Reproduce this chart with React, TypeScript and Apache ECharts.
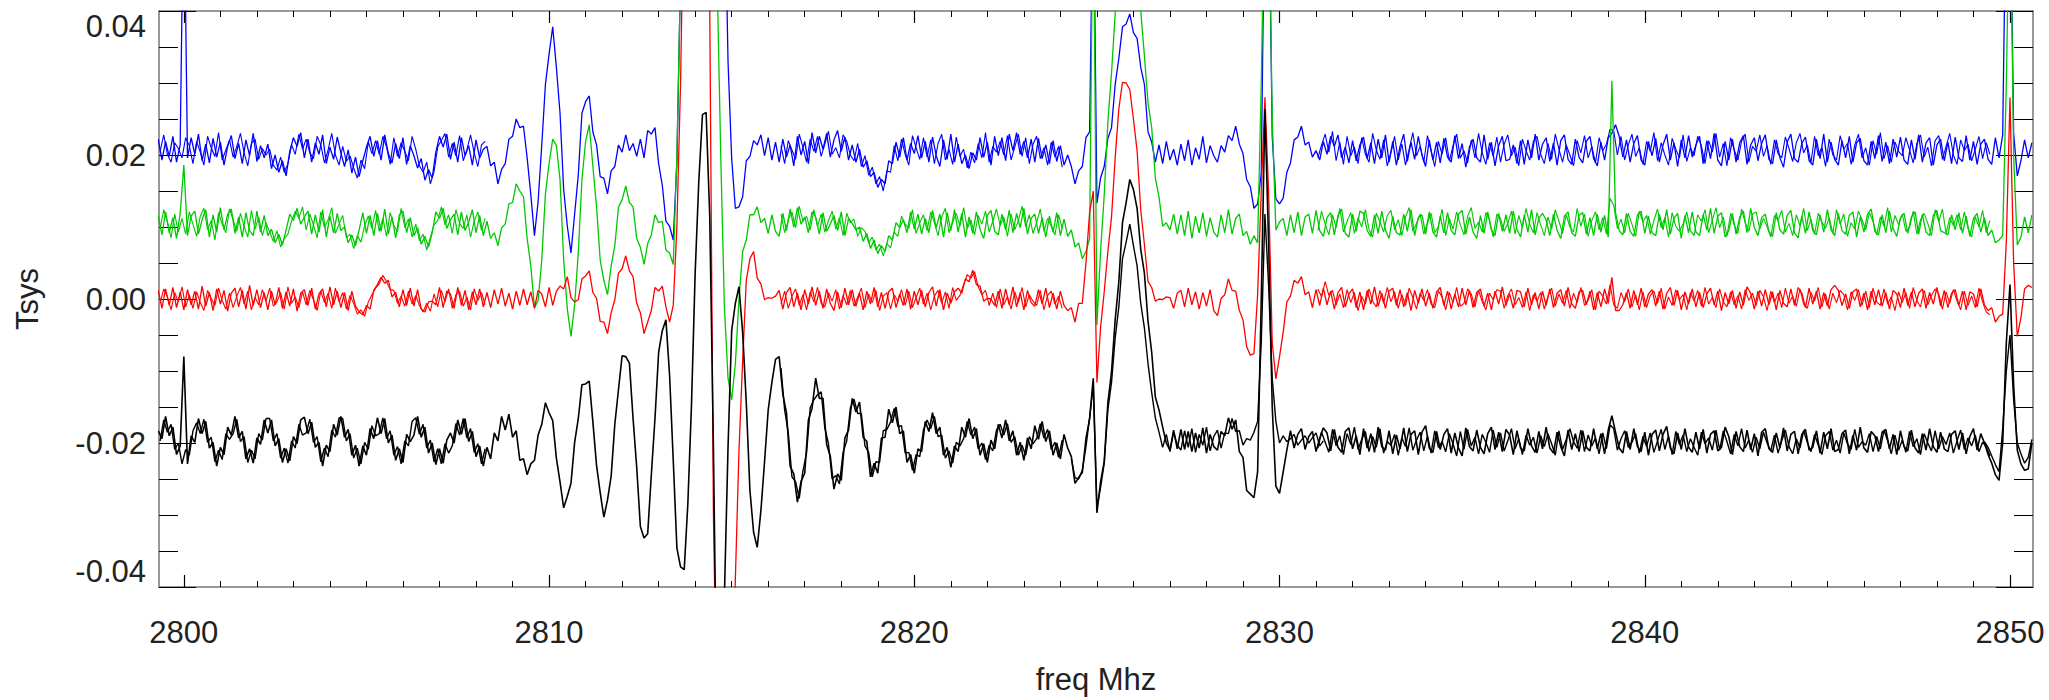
import React, { useEffect, useRef } from "react";
import * as echarts from "echarts";

// frequency grid of the sampled spectra (MHz)
const F0 = 2799.3;
const STEP = 0.1;
const X_MIN = 2799.32;
const X_MAX = 2850.63;
const Y_MIN = -0.04;
const Y_MAX = 0.04;
const X_TICK_LABELS = [2800, 2810, 2820, 2830, 2840, 2850];
const Y_TICK_LABELS = [-0.04, -0.02, 0.0, 0.02, 0.04];
const UNIT = 1e-4; // values below are in units of 1e-4 Tsys

const blueVals = [
  222,193,219,198,226,190,214,600,196,224,
  201,229,192,215,189,223,197,218,186,212,
  227,195,216,188,221,199,230,191,213,196,
  215,181,200,176,192,171,205,224,212,231,
  196,222,190,217,201,228,188,211,194,225,
  203,184,207,175,197,170,192,211,226,198,
  220,193,228,202,189,216,195,224,187,213,
  199,182,195,165,180,168,204,226,211,229,
  194,218,190,224,199,213,186,221,196,208,
  212,185,190,160,180,188,222,226,250,238,
  240,196,145,88,135,214,298,340,378,322,
  258,152,101,64,118,172,258,274,282,232,
  214,170,168,146,178,184,214,204,228,206,
  216,198,222,196,234,229,238,188,158,108,
  101,82,190,450,600,600,600,600,600,600,
  600,600,600,600,600,600,330,195,126,128,
  142,192,198,220,214,228,199,224,193,218,
  190,222,197,214,185,226,200,219,188,231,
  203,226,208,230,197,221,234,205,225,193,
  214,190,208,183,192,170,176,155,166,160,
  192,188,218,197,224,193,216,202,227,196,
  219,190,225,199,184,221,194,229,190,215,
  188,200,181,203,193,224,197,218,186,226,
  199,224,192,229,206,231,201,219,196,222,
  190,223,195,214,188,220,191,213,186,200,
  184,160,178,184,224,232,600,133,168,184,
  223,238,298,334,378,382,396,370,362,322,
  298,232,218,190,214,188,219,193,208,186,
  215,192,221,186,210,194,226,189,213,199,
  190,213,204,227,220,240,215,202,166,156,
  126,132,175,600,600,226,139,132,140,176,
  189,221,225,240,214,218,197,206,193,219,
  201,226,212,228,196,211,189,220,192,214,
  225,195,217,188,222,196,228,190,219,186,
  212,229,191,218,194,226,200,184,221,193,
  218,189,223,197,190,227,195,216,183,211,
  222,196,190,228,194,218,185,213,226,192,
  194,214,188,220,187,221,196,229,193,215,
  224,191,217,186,220,228,194,187,222,197,
  189,219,226,195,185,218,193,224,230,242,
  226,197,221,190,216,227,193,186,219,199,
  223,190,214,229,193,217,184,221,196,227,
  197,214,226,188,220,195,230,193,185,219,
  193,222,190,217,227,187,214,224,192,216,
  228,194,188,221,196,183,218,229,195,190,
  216,225,192,186,222,195,229,190,218,194,
  186,220,196,226,190,217,223,192,186,219,
  195,227,191,218,188,222,197,225,193,187,
  221,194,228,190,217,224,186,214,222,192,
  218,188,225,196,191,227,193,219,187,215,
  222,194,187,224,196,228,600,600,230,171,
  192,221,196,217,
];

const greenVals = [
  116,89,121,92,113,84,119,186,88,115,
  122,90,110,124,86,117,93,127,96,118,
  125,91,114,86,120,95,88,122,93,116,
  88,97,78,90,75,96,118,109,126,104,
  114,122,90,117,93,124,86,115,92,119,
  95,100,78,89,74,96,120,91,116,88,
  119,94,125,90,114,85,117,122,92,113,
  88,99,76,87,72,92,121,112,126,98,
  110,118,89,121,95,107,124,92,116,88,
  108,84,92,74,99,104,132,134,160,150,
  142,84,46,-12,-2,54,146,188,222,213,
  166,54,-14,-52,-8,64,166,219,242,184,
  128,54,26,6,46,74,127,138,157,134,
  128,84,72,48,77,89,117,106,108,68,
  64,48,200,450,600,600,600,600,600,600,
  600,600,600,450,200,-10,-110,-140,-90,0,
  66,82,117,117,128,106,112,91,117,94,
  87,119,95,125,100,127,104,114,92,121,
  114,90,120,94,104,116,95,121,88,112,
  105,96,100,80,91,70,82,63,74,66,
  88,82,106,99,110,92,121,97,118,90,
  112,92,123,99,118,86,120,95,124,93,
  119,86,114,91,121,97,84,116,123,94,
  89,118,96,123,92,119,99,126,90,112,
  118,91,113,86,115,93,120,88,111,87,
  96,72,78,56,66,84,600,-36,66,144,
  246,314,396,600,600,600,600,600,600,400,
  338,272,238,168,142,101,106,96,118,90,
  117,88,122,84,115,92,120,87,113,93,
  86,117,92,124,90,112,118,88,94,76,
  88,78,300,600,600,250,96,107,112,88,
  117,92,121,88,114,118,91,123,95,87,
  113,120,89,116,125,91,86,118,94,122,
  119,95,87,117,91,122,96,84,115,92,
  89,118,94,124,88,113,117,90,121,93,
  86,115,92,120,95,89,118,123,90,114,
  93,84,116,91,121,96,88,119,94,117,
  91,122,97,86,117,93,124,89,112,119,
  110,88,118,95,84,115,121,92,87,116,
  120,90,113,88,118,93,116,86,303,120,
  95,89,119,94,87,117,122,91,115,92,
  88,118,96,124,90,112,119,84,116,92,
  121,93,88,117,96,126,91,115,120,86,
  95,119,90,114,122,92,126,99,88,113,
  118,94,87,120,96,90,116,123,92,85,
  115,91,121,95,89,117,93,124,96,88,
  119,95,90,116,121,86,114,93,118,125,
  94,89,117,92,122,98,87,113,119,91,
  114,121,90,118,93,88,116,123,95,92,
  89,117,96,120,91,115,87,112,119,93,
  113,88,96,78,82,88,300,600,200,75,
  86,114,92,117,
];

const redVals = [
  12,-13,14,-9,16,-12,10,-15,13,-8,
  11,-14,18,-10,9,-16,14,-7,12,-17,
  8,15,-11,12,-14,19,-9,13,-12,9,
  -15,11,-8,16,-13,10,-10,14,-17,8,
  13,-9,15,-14,7,14,-11,17,-8,11,
  -12,9,-16,11,-10,-18,-22,-9,-14,12,
  20,30,22,26,3,9,-11,13,-9,15,
  -10,13,-14,-18,-4,-3,-8,16,-12,11,
  7,-13,16,-9,12,-15,10,-8,14,-11,
  9,-12,13,-7,15,-10,8,-14,11,-9,
  14,-8,10,-13,12,7,-11,16,-9,11,
  18,14,31,2,-4,-1,28,32,39,9,
  1,-31,-32,-48,-19,-1,36,42,60,39,
  31,-6,-19,-48,-32,-16,16,11,18,-11,
  -32,-9,100,300,600,600,600,600,600,600,
  600,400,-300,-600,-600,-600,-600,-600,-390,-210,
  -86,26,56,66,29,21,-1,2,1,4,
  12,-14,9,16,-11,8,-15,13,-7,17,
  -9,11,-13,14,-6,-16,10,-12,15,-8,
  13,-10,8,-15,11,-7,16,-11,9,-13,
  10,15,-12,7,-9,14,-14,11,-8,12,
  -11,9,17,-10,13,-15,8,-6,10,15,
  8,28,24,40,20,18,-3,1,0,-9,
  11,-13,14,-8,17,-11,9,-15,12,-5,
  -10,13,-7,15,-12,8,-14,11,-9,-16,
  -12,-32,-6,-6,50,120,150,-116,-40,10,
  66,114,196,264,301,300,291,250,206,124,
  76,24,16,-3,0,-1,3,2,-13,8,
  12,-11,15,-8,10,-14,9,-10,13,-16,
  -23,1,6,28,12,11,-16,-29,-66,-78,
  -76,6,150,280,150,-60,-111,-80,-46,-4,
  4,26,22,31,6,10,-12,13,-9,15,
  -8,11,-14,9,16,-11,7,14,-12,10,
  -15,12,-7,17,-10,8,-13,11,15,-9,
  13,-11,9,-16,12,-6,14,-10,8,-13,
  10,16,-9,11,-14,7,-11,15,-8,12,
  -12,9,14,-10,8,-15,11,-7,17,-9,
  7,-13,12,10,-11,15,-8,9,-14,11,
  -9,14,-12,8,13,-10,16,-7,-13,10,
  12,-8,11,-15,9,-11,14,-6,30,-16,
  -16,-8,9,-13,12,-8,15,-11,7,13,
  -10,11,-14,8,16,-9,12,-15,10,-7,
  14,-11,9,-12,7,15,-8,11,-16,9,
  -7,12,-13,10,-9,17,8,-14,11,-10,
  13,-8,10,-15,12,-6,-11,14,-9,16,
  8,-12,15,-7,11,-14,9,-10,13,19,
  12,-9,7,-13,10,14,-11,8,-15,11,
  -8,13,-10,9,-14,12,7,-12,15,-9,
  10,-11,8,14,-13,9,-7,16,-10,12,
  -12,8,13,-9,11,-15,10,7,-11,14,
  -8,-16,-12,-32,-24,-21,80,280,50,-52,
  -26,14,19,16,
];

const blackVals = [
  -183,-194,-163,-190,-178,-216,-204,-80,-229,-190,
  -199,-166,-187,-170,-207,-199,-232,-206,-216,-178,
  -189,-163,-193,-184,-222,-208,-228,-193,-202,-168,
  -186,-168,-204,-194,-227,-208,-225,-191,-201,-168,
  -164,-187,-171,-206,-199,-232,-203,-212,-174,-189,
  -163,-192,-181,-217,-203,-232,-204,-217,-180,-194,
  -165,-187,-166,-200,-189,-224,-208,-227,-188,-198,
  -189,-163,-192,-178,-214,-200,-230,-208,-228,-196,
  -186,-200,-168,-188,-166,-198,-184,-219,-204,-232,
  -206,-222,-186,-197,-163,-182,-160,-192,-183,-224,
  -222,-244,-229,-224,-189,-174,-144,-158,-169,-221,
  -254,-290,-274,-256,-199,-166,-119,-118,-114,-171,
  -231,-269,-303,-279,-246,-174,-126,-79,-80,-89,
  -166,-234,-316,-332,-326,-244,-166,-74,-44,-29,
  -106,-224,-346,-372,-376,-284,-146,36,164,256,
  259,114,-206,-600,-600,-414,-206,-44,-6,17,
  -46,-144,-266,-324,-345,-294,-226,-154,-116,-84,
  -80,-132,-158,-232,-243,-282,-253,-242,-168,-152,
  -110,-138,-138,-202,-218,-264,-243,-252,-193,-182,
  -138,-157,-143,-192,-198,-247,-228,-242,-193,-192,
  -153,-172,-150,-187,-183,-227,-216,-242,-208,-212,
  -170,-184,-158,-187,-178,-217,-206,-234,-204,-212,
  -178,-192,-166,-194,-180,-217,-201,-227,-196,-208,
  -174,-193,-168,-197,-183,-217,-199,-224,-193,-208,
  -176,-195,-170,-198,-183,-217,-200,-222,-188,-207,
  -219,-256,-248,-241,-194,-166,-110,-297,-254,-226,
  -144,-101,-29,24,106,134,166,152,126,69,
  36,-31,-74,-136,-154,-178,-200,-210,-182,-208,
  -181,-209,-184,-212,-186,-207,-179,-214,-188,-205,
  -210,-184,-190,-165,-181,-168,-212,-220,-266,-271,
  -276,-240,0,264,80,-150,-260,-270,-240,-210,
  -183,-207,-188,-180,-209,-191,-184,-212,-193,-179,
  -186,-211,-181,-206,-213,-184,-179,-208,-190,-216,
  -180,-207,-187,-213,-178,-205,-210,-183,-215,-189,
  -208,-179,-212,-188,-183,-216,-185,-176,-207,-213,
  -184,-209,-188,-180,-214,-186,-207,-218,-179,-205,
  -211,-182,-206,-215,-187,-178,-209,-185,-212,-181,
  -189,-216,-183,-207,-211,-180,-204,-213,-184,-208,
  -178,-207,-214,-185,-205,-218,-182,-209,-187,-212,
  -183,-206,-211,-180,-208,-187,-215,-182,-162,-185,
  -207,-214,-184,-209,-180,-205,-212,-185,-217,-188,
  -182,-211,-188,-177,-207,-215,-186,-209,-180,-206,
  -213,-185,-208,-181,-214,-188,-183,-211,-206,-178,
  -191,-216,-184,-205,-212,-182,-209,-187,-218,-185,
  -180,-208,-213,-186,-207,-179,-211,-188,-184,-215,
  -188,-181,-210,-206,-183,-214,-185,-208,-180,-212,
  -209,-187,-182,-215,-189,-210,-178,-207,-213,-184,
  -190,-212,-185,-181,-208,-188,-216,-183,-205,-211,
  -182,-207,-214,-187,-210,-180,-205,-213,-185,-208,
  -212,-188,-183,-209,-186,-215,-191,-180,-210,-187,
  -200,-216,-228,-244,-252,-200,-60,20,-120,-210,
  -229,-238,-236,-200,
];

// second black trace, only where it separates from the first
const blackB1Start = 2824.3;
const blackB1Vals = [
  -222,-248,-250,-238,-205,-165,-120,-290,-262,-228,
  -154,-116,-54,-11,56,79,104,74,46,-6,
  -40,-90,-130,-165,-185,-206,-188,-212,-185,-203,
  -210,-183,-206,-180,-213,-188,-203,-178,-211,-191,
  -182,-207,-186,-187,-166,-184,-183,-203,-194,-196,
  -185,-170,-60,118,20,-110,-170,-200,-190,-198,
  -194,-188,-203,-196,-190,-200,-193,-186,-204,-197,
];
const blackB2Start = 2849.3;
const blackB2Vals = [
  -198,-206,-218,-230,-240,-180,-100,-50,-140,-200,
  -215,-228,-220,-195,
];

// in-between samples (offset by half a channel) in the quiet stretches
const SEG1_START = 2799.35;
const SEG2_START = 2816.35;
const SEG3_START = 2831.05;

const blueSeg1 = [
  205,228,201,190,217,209,196,224,213,188,
  219,204,186,226,210,198,231,193,207,221,
  197,212,230,203,185,216,222,194,209,200,
  208,186,179,197,176,188,214,201,229,208,
  222,203,195,226,214,189,207,230,200,186,
  212,191,199,182,168,193,181,218,202,220,
  201,226,211,187,224,198,217,205,192,226,
  208,185,176,190,160,177,211,220,230,197,
  216,199,227,192,207,228,203,184,214,219,
];
const blueSeg2 = [
  213,188,220,207,194,229,211,190,222,205,
  226,198,215,233,201,210,196,228,219,200,
  192,216,184,199,172,183,160,170,150,178,
  176,213,192,222,201,186,227,210,194,224,
  197,221,188,216,229,193,208,187,225,198,
  208,182,204,189,216,196,231,190,212,204,
  219,200,227,193,211,229,198,224,188,215,
  226,195,210,186,218,197,212,183,
];
const blueSeg3 = [
  196,214,229,204,233,192,218,187,226,199,
  211,188,224,201,190,230,207,194,221,185,
  203,226,193,215,186,208,231,199,212,190,
  227,205,184,219,201,224,192,213,229,196,
  206,189,221,196,230,203,187,217,198,225,
  190,215,228,199,211,185,222,206,193,219,
  226,201,188,216,194,229,208,190,214,200,
  185,220,203,227,196,212,189,224,206,215,
  236,234,200,226,193,214,229,198,210,187,
  219,205,231,192,217,200,186,223,208,196,
  228,191,210,199,226,213,188,220,204,230,
  197,216,185,224,207,193,219,229,190,212,
  205,228,198,213,187,221,202,196,225,209,
  191,217,230,203,214,189,226,199,211,184,
  222,200,193,227,208,216,187,214,229,196,
  210,186,220,201,231,195,213,190,218,205,
  199,224,207,189,216,228,197,211,185,220,
  227,194,212,230,200,187,221,206,215,192,
  208,226,195,217,201,
];

const greenSeg1 = [
  98,124,107,85,118,93,112,90,121,104,
  87,115,126,96,109,82,120,104,92,125,
  110,94,119,101,86,123,97,114,88,106,
  93,80,95,72,84,90,108,122,112,128,
  96,118,103,85,121,99,110,127,91,104,
  116,85,90,70,88,79,102,115,98,123,
  94,112,87,120,102,93,126,99,111,86,
  104,81,90,68,86,103,109,128,103,117,
  91,124,105,98,117,86,108,121,95,112,
];
const greenSeg2 = [
  118,92,110,121,99,129,108,115,96,124,
  101,118,93,109,122,97,113,88,119,106,
  111,87,99,94,78,86,68,76,60,77,
  71,93,87,115,104,98,124,91,106,117,
  95,121,106,88,114,126,92,107,119,101,
  127,98,110,89,116,104,122,93,108,125,
  102,114,87,118,96,109,129,100,117,91,
  106,125,94,112,101,89,117,98,
];
const greenSeg3 = [
  95,122,104,89,117,99,126,93,108,120,
  91,113,100,124,97,86,119,107,93,116,
  123,96,110,88,114,127,94,105,118,90,
  106,119,92,101,125,88,112,97,121,103,
  89,115,127,98,107,93,120,110,86,118,
  112,94,105,122,90,116,99,126,104,92,
  120,103,88,114,97,124,108,91,117,100,
  93,126,101,118,87,109,121,96,113,90,
  140,130,98,111,92,119,104,87,122,107,
  116,90,109,125,99,113,86,120,101,94,
  104,121,95,88,117,108,124,92,110,127,
  99,114,87,119,103,91,125,106,94,118,
  121,97,112,100,86,116,109,123,93,105,
  88,117,102,126,95,111,90,119,107,98,
  113,91,124,104,118,87,106,97,122,110,
  96,120,108,89,114,101,127,93,116,103,
  118,94,99,122,90,110,119,105,88,124,
  107,125,91,113,102,117,96,121,98,86,
  114,100,123,92,109,
];

const redSeg1 = [
  -6,14,3,-15,9,-4,17,-11,6,-13,
  10,-5,-16,12,1,-9,15,-2,-14,8,
  -12,4,16,-7,11,-15,2,-8,13,-3,
  15,-10,-4,9,-14,17,-6,3,-12,10,
  -8,12,-1,-16,11,-5,8,-13,15,-4,
  9,-14,5,-6,-21,-15,-24,-4,6,15,
  21,33,24,13,12,-6,4,-10,11,-7,
  5,-9,-18,-6,-17,7,-11,12,-4,14,
  -13,6,11,-10,3,-15,14,-2,9,-8,
];
const redSeg2 = [
  -7,11,-13,4,14,-9,6,-15,10,-4,
  16,-6,-11,9,-3,13,-14,5,-8,12,
  -10,3,15,-12,7,-5,12,-16,4,9,
  -14,6,-3,13,-9,11,-12,2,15,-7,
  8,-15,4,12,-6,10,-13,16,-2,5,
  20,34,29,38,17,6,12,-9,8,-12,
  14,-8,3,-14,10,-5,16,-11,6,-3,
  -9,12,-15,5,11,-7,4,-13,
];
const redSeg3 = [
  14,3,24,5,12,-8,7,-12,13,-5,
  9,-16,4,-7,14,-3,-11,12,-6,16,
  -4,10,-13,6,-9,15,2,-14,8,-2,
  13,-7,-12,11,3,-15,9,-5,16,-10,
  -6,14,7,-11,12,-4,-15,8,-1,13,
  11,-13,5,14,-8,2,-12,10,-16,6,
  -3,9,-14,4,15,-10,7,-6,12,-13,
  8,-5,16,-9,-2,13,-15,11,4,-7,
  20,-8,-13,9,-4,14,-11,6,-15,10,
  -12,5,11,-6,15,-14,3,-9,13,-1,
  6,-15,9,-3,12,-10,16,-7,2,-12,
  14,-4,-11,10,-8,5,-14,13,-2,8,
  -9,12,3,-16,11,-5,8,-12,15,-6,
  4,-10,14,-7,-13,9,-3,16,-11,7,
  -14,8,-5,12,6,-15,10,-2,13,-9,
  11,-12,15,-4,-9,14,-7,3,-16,10,
  -5,9,-13,16,-2,-11,12,-8,5,14,
  7,-14,10,-6,13,-3,-15,11,-9,4,
  -12,15,-4,-18,-22,
];

const blackSeg1 = [
  -197,-168,-185,-174,-209,-200,-229,-209,-217,-183,
  -172,-187,-167,-199,-192,-226,-210,-223,-187,-195,
  -187,-167,-198,-191,-227,-210,-222,-187,-196,-166,
  -166,-197,-187,-221,-207,-228,-197,-207,-174,-189,
  -186,-167,-199,-191,-226,-207,-219,-182,-192,-165,
  -166,-197,-187,-221,-207,-229,-199,-209,-176,-190,
  -187,-165,-194,-183,-217,-205,-229,-197,-204,-170,
  -165,-188,-174,-207,-196,-226,-208,-229,-201,-214,
  -204,-173,-189,-166,-193,-180,-213,-201,-229,-208,
];
const blackSeg2 = [
  -96,-154,-186,-247,-254,-277,-239,-214,-151,-140,
  -133,-129,-179,-201,-250,-245,-257,-213,-197,-151,
  -139,-159,-159,-204,-213,-247,-226,-227,-183,-181,
  -171,-152,-177,-176,-214,-213,-238,-216,-219,-182,
  -168,-180,-163,-191,-189,-221,-211,-228,-199,-204,
  -194,-170,-189,-178,-208,-200,-223,-203,-211,-182,
  -174,-189,-173,-199,-191,-217,-203,-217,-191,-201,
  -194,-173,-193,-181,-209,-199,-220,-196,
];
const blackSeg3 = [
  -207,-185,-199,-213,-181,-204,-190,-216,-187,-202,
  -178,-209,-195,-184,-212,-191,-206,-180,-214,-198,
  -203,-188,-217,-193,-205,-179,-210,-196,-185,-211,
  -190,-214,-183,-206,-198,-212,-187,-201,-218,-184,
  -209,-181,-204,-192,-215,-188,-199,-213,-182,-206,
  -186,-211,-197,-180,-208,-194,-216,-189,-203,-192,
  -214,-190,-205,-187,-201,-217,-183,-209,-195,-180,
  -198,-207,-182,-212,-189,-204,-193,-215,-186,-208,
  -175,-180,-210,-194,-183,-206,-199,-187,-214,-191,
  -205,-186,-213,-197,-181,-209,-190,-216,-184,-202,
  -189,-212,-194,-206,-217,-185,-201,-193,-210,-182,
  -210,-183,-198,-215,-188,-204,-180,-207,-196,-213,
  -192,-208,-185,-200,-211,-189,-214,-197,-182,-205,
  -215,-194,-207,-183,-199,-212,-188,-203,-216,-190,
  -184,-210,-196,-214,-186,-201,-209,-181,-206,-198,
  -203,-187,-212,-191,-208,-182,-197,-215,-189,-210,
  -196,-213,-184,-205,-194,-216,-187,-200,-211,-183,
  -208,-191,-202,-186,-214,-197,-182,-209,-193,-204,
  -189,-212,-199,-205,-218,
];

const FONT = "'Liberation Sans', Arial, Helvetica, sans-serif";
const TEXT = "#222";
const BLUE = "#0000ff";
const GREEN = "#00c800";
const RED = "#ff0000";
const BLACK = "#000000";

function toPairs(start: number, vals: number[]) {
  return vals.map((v, i) => [Math.round((start + i * STEP) * 100) / 100, v * UNIT]);
}

export default function App() {
  const ref = useRef<HTMLDivElement>(null);
  useEffect(() => {
    if (!ref.current) return;
    const chart = echarts.init(ref.current, undefined, { renderer: "svg" });
    const minorX: number[] = [];
    for (let f = X_TICK_LABELS[0]; f <= X_TICK_LABELS[X_TICK_LABELS.length - 1]; f += 1) minorX.push(f);

    const baseX = {
      type: "value" as const,
      min: X_MIN,
      max: X_MAX,
      splitLine: { show: false },
    };
    const baseY = {
      type: "value" as const,
      min: Y_MIN,
      max: Y_MAX,
      interval: 0.02,
      splitLine: { show: false },
      minorSplitLine: { show: false },
    };
    const line = (data: any[], color: string, width: number) => ({
      type: "line",
      data,
      showSymbol: false,
      symbol: "none",
      lineStyle: { color, width },
      itemStyle: { color },
      clip: true,
      z: 2,
    });
    const axisLineStyle = { color: "#777", width: 1.5 };

    const traces = [
      { color: BLUE, w: 1.3, main: toPairs(F0, blueVals), segs: [toPairs(SEG1_START, blueSeg1), toPairs(SEG2_START, blueSeg2), toPairs(SEG3_START, blueSeg3)] },
      { color: GREEN, w: 1.3, main: toPairs(F0, greenVals), segs: [toPairs(SEG1_START, greenSeg1), toPairs(SEG2_START, greenSeg2), toPairs(SEG3_START, greenSeg3)] },
      { color: RED, w: 1.3, main: toPairs(F0, redVals), segs: [toPairs(SEG1_START, redSeg1), toPairs(SEG2_START, redSeg2), toPairs(SEG3_START, redSeg3)] },
      { color: BLACK, w: 1.6, main: toPairs(F0, blackVals), segs: [toPairs(SEG1_START, blackSeg1), toPairs(SEG2_START, blackSeg2), toPairs(SEG3_START, blackSeg3), toPairs(blackB1Start, blackB1Vals), toPairs(blackB2Start, blackB2Vals)] },
    ];
    const series: any[] = [];
    traces.forEach((t) => {
      series.push(line(t.main, t.color, t.w));
      t.segs.forEach((s) => series.push(line(s, t.color, t.w - 0.2)));
    });

    chart.setOption({
      animation: false,
      backgroundColor: "#ffffff",
      grid: { left: 159, right: 16, top: 11, bottom: 113, containLabel: false },
      xAxis: [
        {
          ...baseX,
          position: "bottom",
          axisLine: { show: true, onZero: false, lineStyle: axisLineStyle },
          axisTick: { show: true, inside: true, length: 12, customValues: X_TICK_LABELS, lineStyle: { color: "#000", width: 1.2 } },
          axisLabel: {
            show: true,
            customValues: X_TICK_LABELS,
            fontSize: 31,
            color: TEXT,
            fontFamily: FONT,
            margin: 30,
            formatter: (v: number) => String(Math.round(v)),
          },
          name: "freq Mhz",
          nameLocation: "middle",
          nameGap: 77,
          nameTextStyle: { fontSize: 31, color: TEXT, fontFamily: FONT },
        },
        {
          ...baseX,
          position: "bottom",
          axisLine: { show: false, onZero: false },
          axisTick: { show: true, inside: true, length: 6, customValues: minorX, lineStyle: { color: "#000", width: 1 } },
          axisLabel: { show: false },
        },
        {
          ...baseX,
          position: "top",
          axisLine: { show: true, onZero: false, lineStyle: axisLineStyle },
          axisTick: { show: true, inside: true, length: 12, customValues: X_TICK_LABELS, lineStyle: { color: "#000", width: 1.2 } },
          axisLabel: { show: false },
        },
        {
          ...baseX,
          position: "top",
          axisLine: { show: false, onZero: false },
          axisTick: { show: true, inside: true, length: 6, customValues: minorX, lineStyle: { color: "#000", width: 1 } },
          axisLabel: { show: false },
        },
      ],
      yAxis: [
        {
          ...baseY,
          position: "left",
          axisLine: { show: true, onZero: false, lineStyle: axisLineStyle },
          axisTick: { show: true, inside: true, length: 37, lineStyle: { color: "#000", width: 1.2 } },
          minorTick: { show: true, splitNumber: 4, length: 19, lineStyle: { color: "#000", width: 1 } },
          axisLabel: {
            show: true,
            fontSize: 31,
            color: TEXT,
            fontFamily: FONT,
            margin: 13,
            verticalAlignMaxLabel: "top",
            verticalAlignMinLabel: "bottom",
            formatter: (v: number) => {
              const t = Y_TICK_LABELS.find((y) => Math.abs(y - v) < 1e-9);
              const val = t === undefined ? v : t;
              return Math.abs(val) < 1e-9 ? "0.00" : val.toFixed(2);
            },
          },
          name: "Tsys",
          nameLocation: "middle",
          nameRotate: 90,
          nameGap: 116,
          nameTextStyle: { fontSize: 31, color: TEXT, fontFamily: FONT },
        },
        {
          ...baseY,
          position: "right",
          axisLine: { show: true, onZero: false, lineStyle: axisLineStyle },
          axisTick: { show: true, inside: true, length: 37, lineStyle: { color: "#000", width: 1.2 } },
          minorTick: { show: true, splitNumber: 4, length: 19, lineStyle: { color: "#000", width: 1 } },
          axisLabel: { show: false },
        },
      ],
      series,
    });
    return () => chart.dispose();
  }, []);
  return (
    <div
      ref={ref}
      style={{ position: "fixed", left: 0, top: 0, width: 2049, height: 700, background: "#fff" }}
    />
  );
}
